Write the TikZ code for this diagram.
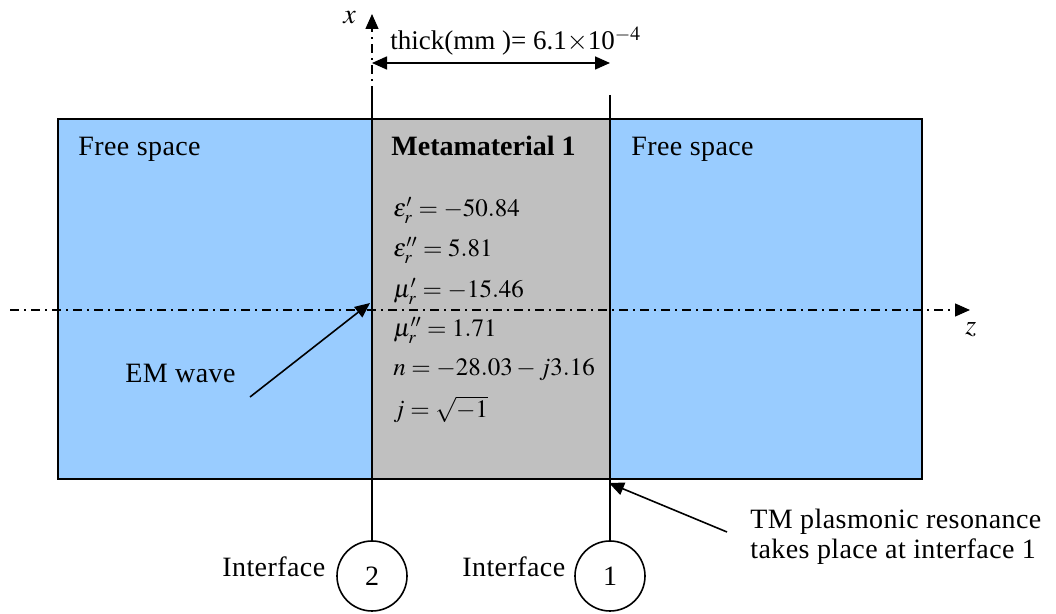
\documentclass[tikz,border=0pt]{standalone}
\usepackage{mathptmx}
\usepackage[no-math]{fontspec}
\setmainfont{Liberation Serif}
\newfontfamily\spaced[LetterSpace=1.5]{Liberation Serif}
\usetikzlibrary{arrows.meta,positioning}
\definecolor{sky}{HTML}{99CCFF}
\definecolor{slab}{HTML}{C0C0C0}
\tikzset{
  lbl/.style={anchor=base west, inner sep=0pt, font=\fontsize{14}{15}\spaced},
  eqn/.style={anchor=base west, inner sep=0pt, font=\fontsize{12.5}{14}\selectfont},
  axisline/.style={line width=0.7pt, dash pattern=on 4.5pt off 2.5pt on 1pt off 2.5pt},
  tip/.style={-{Triangle[length=7.5pt,width=6.5pt]}, line width=0.8pt},
  ring/.style={draw, circle, minimum size=35pt, inner sep=0pt, line width=0.8pt,
               font=\fontsize{14}{15}\selectfont},
}

\begin{document}
\begin{tikzpicture}[x=0.5pt,y=-0.5pt]
    \useasboundingbox (0,0) rectangle (1056,614);
    % media
    \fill[sky]  (58,119)  rectangle (372,479);
    \fill[slab] (372,119) rectangle (610,479);
    \fill[sky]  (610,119) rectangle (922,479);
    % z axis
    \coordinate (ztail) at (10,310);
    \coordinate (zhead) at (970,310);
    \draw[axisline, -{Triangle[length=7.5pt,width=6.5pt]}] (ztail) -- (zhead);
    \node[eqn, font=\fontsize{14}{15}\selectfont] (zlab) at (965,335) {$z$};
    \draw[line width=0.8pt] (58,119) rectangle (922,479);
    % interfaces
    \node[ring] (c2) at (372,576) {2};
    \node[ring] (c1) at (610,576) {1};
    \coordinate (xfoot) at (372,95);
    \coordinate (xhead) at (372,14);
    \coordinate (rtop) at (610,95);
    \draw[axisline, -{Triangle[length=7.5pt,width=6.5pt]}] (xfoot) -- (xhead);
    \draw[line width=0.8pt] (xfoot) -- (c2.north);
    \draw[line width=0.8pt] (rtop) -- (c1.north);
    \node[eqn, font=\fontsize{14}{15}\selectfont] (xlab) at (343,24) {$x$};
    \node[lbl] (if2) at (222,577) {Interface};
    \node[lbl] (if1) at (462,577) {Interface};
    % thickness
    \coordinate (dl) at (372,63);
    \coordinate (dr) at (610,63);
    \draw[{Triangle[length=7.5pt,width=6.5pt]}-{Triangle[length=7.5pt,width=6.5pt]}, line width=0.8pt] (dl) -- (dr);
    \node[eqn, font=\fontsize{13.5}{15}\selectfont] (thick) at (390,50) {thick(mm )= 6.1$\times$10$^{-4}$};
    % labels
    \node[lbl] (fs1) at (78,156)  {Free space};
    \node[lbl] (fs2) at (631,156) {Free space};
    \node[eqn, font=\fontsize{14}{15}\selectfont] (meta) at (391,156) {\textbf{Metamaterial 1}};
    \node[eqn] (e1) at (393,217) {$\varepsilon'_r = -50.84$};
    \node[eqn] (e2) at (393,257) {$\varepsilon''_r = 5.81$};
    \node[eqn] (m1) at (393,298) {$\mu'_r = -15.46$};
    \node[eqn] (m2) at (393,337) {$\mu''_r = 1.71$};
    \node[eqn] (nn) at (393,376) {$n = -28.03 - j3.16$};
    \node[eqn] (jj) at (393,418) {$j = \sqrt{-1}$};
    % arrows
    \node[lbl] (em) at (125,383) {EM wave};
    \coordinate (emtail) at (250,397);
    \coordinate (emtip) at (370,303);
    \draw[tip] (emtail) -- (emtip);
    \node[lbl, anchor=west, align=left] (tm) at (750,537)
      {TM plasmonic resonance\\takes place at interface 1};
    \coordinate (tmtail) at (727,532);
    \coordinate (tmtip) at (609,483);
    \draw[tip] (tmtail) -- (tmtip);
\end{tikzpicture}
\end{document}
